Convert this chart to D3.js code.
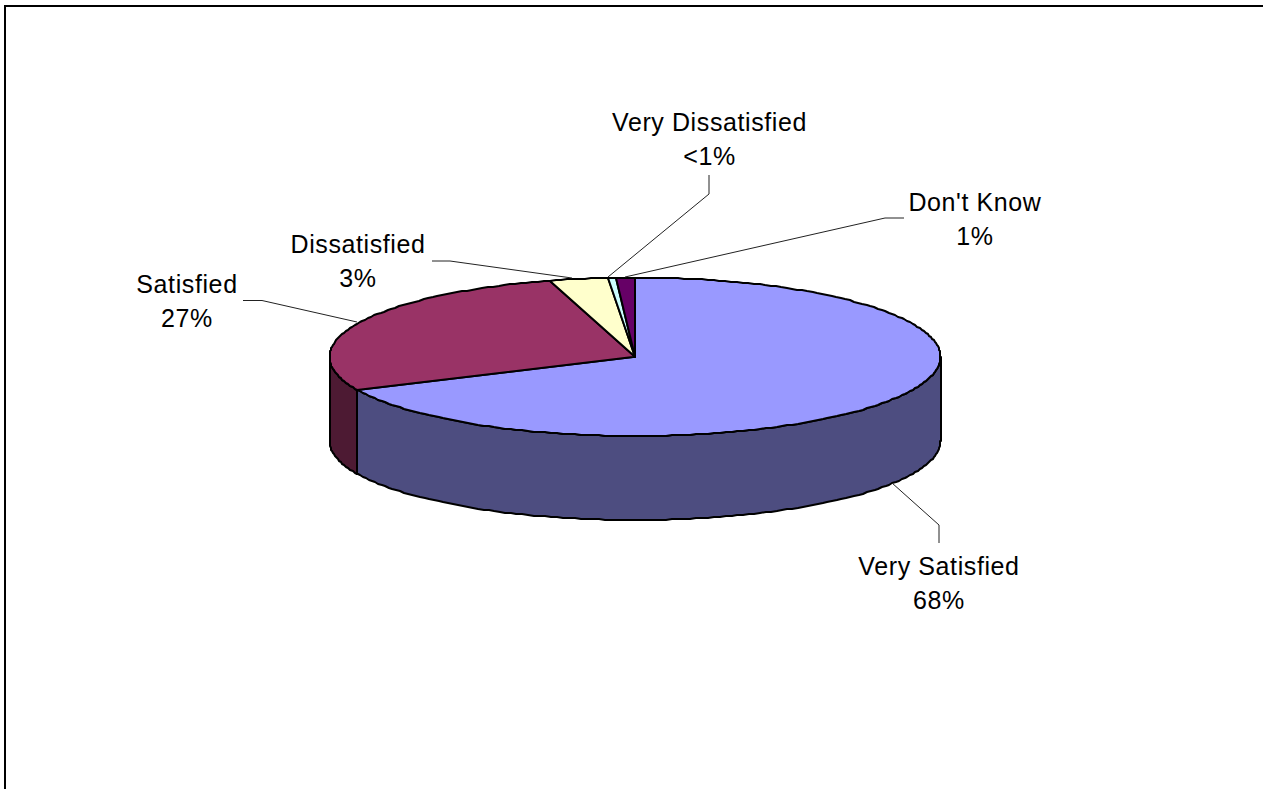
<!DOCTYPE html>
<html><head><meta charset="utf-8">
<script src="https://cdnjs.cloudflare.com/ajax/libs/d3/7.8.5/d3.min.js"></script>
<style>html,body{margin:0;padding:0;background:#fff;overflow:hidden}svg{display:block}</style>
</head><body><svg id="c" width="1263" height="789"></svg>
<script>
const categories = ["Very Satisfied","Satisfied","Dissatisfied","Very Dissatisfied","Don't Know"];
const values = [68.2,27.3,3.1,0.4,1.0];
const valueLabels = ["68%","27%","3%","<1%","1%"];
const topColors = ["#9999ff","#993366","#ffffcc","#ccffff","#660066"];
const sideColors = ["#4d4d80","#4d1a33","#80801a","#668080","#330033"];

// layout
const W=1263,H=789;
const x=d3.scaleLinear().domain([-1,1]).range([329.5,940.5]);
const y=d3.scaleLinear().domain([1,-1]).range([277.5,436]);
const depth=84;
const font='"Liberation Sans",Arial,sans-serif';
const labelLayout=[
 {cx:939,base:575,leader:[[892,483],[939,525],[939,543]]},
 {cx:187,base:293,leader:[[243,300.5],[262,300.5],[357,322]]},
 {cx:358,base:253,leader:[[432,261],[450,261],[572,278]]},
 {cx:709.5,base:131,leader:[[709,175],[709,194],[608,277]]},
 {cx:975,base:211,leader:[[904,218],[885,218],[625,277]]}
];

const svg=d3.select("#c");
svg.append("rect").attr("width",W).attr("height",H).attr("fill","#fff");
// frame (top and left only)
svg.append("path").attr("d",d3.line()([[5,789],[5,6],[1263,6]])).attr("fill","none").attr("stroke","#000").attr("stroke-width",2);

const pie=d3.pie().sort(null).value(d=>d).startAngle(0).endAngle(2*Math.PI);
const arcs=pie(values);
const px=a=>Math.round(x(Math.sin(a))), py=a=>Math.round(y(Math.cos(a)));
// rim sampling on whole pixels reproduces the stepped outline of the original
const step=0.02;
const samples=(a0,a1)=>{
  const inner=d3.range(Math.ceil(a0/step),Math.floor(a1/step)+1).map(k=>k*step).filter(a=>a>a0&&a<a1);
  return [a0,...inner,a1];
};
const line=d3.line();

// side walls: only the front half of the rim (angles pi/2..3pi/2)
const g=svg.append("g").attr("stroke","#000").attr("stroke-width",2).attr("stroke-linejoin","round");
arcs.forEach((d,i)=>{
  const a0=Math.max(d.startAngle,Math.PI/2), a1=Math.min(d.endAngle,3*Math.PI/2);
  if(a1<=a0) return;
  const s=samples(a0,a1);
  const pts=s.map(a=>[px(a),py(a)]).concat(s.slice().reverse().map(a=>[px(a),py(a)+depth]));
  g.append("path").attr("d",line(pts)+"Z").attr("fill",sideColors[i]);
});
// top faces
arcs.forEach((d,i)=>{
  const pts=[[x(0),y(0)]].concat(samples(d.startAngle,d.endAngle).map(a=>[px(a),py(a)]));
  g.append("path").attr("d",line(pts)+"Z").attr("fill",topColors[i]);
});
// leaders
const lg=svg.append("g").attr("fill","none").attr("stroke","#222").attr("stroke-width",1);
labelLayout.forEach(l=>lg.append("path").attr("d",line(l.leader)));
// labels
const tg=svg.append("g").attr("font-family",font).attr("font-size",25).attr("letter-spacing",0.6).attr("fill","#000").attr("text-anchor","middle");
categories.forEach((c,i)=>{
  const l=labelLayout[i];
  tg.append("text").attr("x",l.cx).attr("y",l.base).text(c);
  tg.append("text").attr("x",l.cx).attr("y",l.base+33.5).text(valueLabels[i]);
});
</script></body></html>
